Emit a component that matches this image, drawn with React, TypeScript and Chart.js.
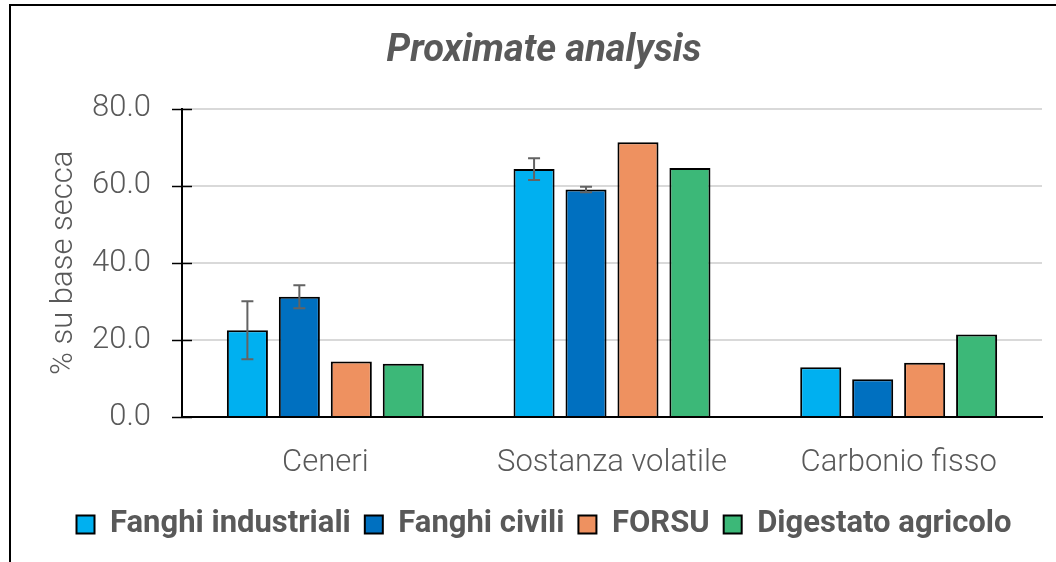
import React, { useEffect, useRef } from "react";
import { Chart, registerables } from "chart.js";

Chart.register(...registerables);

const categories = ["Ceneri", "Sostanza volatile", "Carbonio fisso"];
const seriesNames = ["Fanghi industriali", "Fanghi civili", "FORSU", "Digestato agricolo"];
const fanghiIndustriali = [22.5, 64.3, 12.9];
const fanghiCivili = [31.2, 59.0, 9.8];
const forsu = [14.4, 71.3, 14.1];
const digestato = [13.8, 64.6, 21.4];
const errIndustriali = [7.5, 2.8, 0];
const errCivili = [3.0, 0.7, 0];
const colors = ["#00B0F0", "#0070C0", "#EE9160", "#3CB878"];
const yTicks = [0, 20, 40, 60, 80];

const TEXT = "#595959";
const FONT = "Roboto, 'Noto Sans', sans-serif";

const errorBarPlugin = {
  id: "errorBars",
  afterDatasetsDraw(chart: any) {
    const ctx = chart.ctx;
    const y = chart.scales.y;
    const errs = [errIndustriali, errCivili];
    ctx.save();
    ctx.strokeStyle = "#636363";
    ctx.lineWidth = 2;
    errs.forEach((err, di) => {
      const meta = chart.getDatasetMeta(di);
      meta.data.forEach((bar: any, i: number) => {
        const e = err[i];
        if (!e) return;
        const v = (chart.data.datasets[di].data as number[])[i];
        const top = y.getPixelForValue(v + e);
        const bot = y.getPixelForValue(v - e);
        const x = bar.x;
        ctx.beginPath();
        ctx.moveTo(x, top);
        ctx.lineTo(x, bot);
        ctx.moveTo(x - 6, top);
        ctx.lineTo(x + 6, top);
        ctx.moveTo(x - 6, bot);
        ctx.lineTo(x + 6, bot);
        ctx.stroke();
      });
    });
    ctx.restore();
  },
};

const tickPlugin = {
  id: "yTickMarks",
  afterDraw(chart: any) {
    const ctx = chart.ctx;
    const y = chart.scales.y;
    const x0 = chart.chartArea.left;
    ctx.save();
    ctx.strokeStyle = "#000";
    ctx.lineWidth = 1.5;
    yTicks.forEach((t) => {
      const py = Math.round(y.getPixelForValue(t)) + 0.5;
      ctx.beginPath();
      ctx.moveTo(x0 - 10, py);
      ctx.lineTo(x0 + 10, py);
      ctx.stroke();
    });
    ctx.restore();
  },
};

export default function App() {
  const ref = useRef<HTMLCanvasElement | null>(null);
  useEffect(() => {
    if (!ref.current) return;
    const data = [fanghiIndustriali, fanghiCivili, forsu, digestato];
    const chart = new Chart(ref.current, {
      type: "bar",
      data: {
        labels: categories,
        datasets: seriesNames.map((name, i) => ({
          label: name,
          data: data[i],
          backgroundColor: colors[i],
          borderColor: "#000000",
          borderWidth: 2,
          barPercentage: 0.79,
          categoryPercentage: 0.725,
        })),
      },
      options: {
        animation: false,
        responsive: false,
        devicePixelRatio: 1,
        layout: { padding: { left: 46, right: 14, top: 0, bottom: 12 } },
        plugins: {
          title: {
            display: true,
            text: "Proximate analysis",
            color: TEXT,
            font: { family: FONT, size: 38, weight: "bold", style: "italic" },
            padding: { top: 29, bottom: 34 },
          },
          legend: {
            position: "bottom",
            labels: {
              color: TEXT,
              font: { family: FONT, size: 31, weight: "bold" },
              boxWidth: 18,
              boxHeight: 18,
              padding: 14,
              generateLabels: () =>
                seriesNames.map((n, i) => ({
                  text: n,
                  fillStyle: colors[i],
                  strokeStyle: "#000",
                  lineWidth: 2,
                  datasetIndex: i,
                  fontColor: TEXT,
                })),
            },
          },
          tooltip: { enabled: false },
        },
        scales: {
          x: {
            grid: { display: false, drawTicks: false },
            border: { display: true, color: "#000", width: 2 },
            ticks: { color: TEXT, font: { family: FONT, size: 31, weight: "300" }, padding: 28 },
            afterFit: (s: any) => {
              s.height = 78;
            },
          },
          y: {
            min: 0,
            max: 80,
            afterBuildTicks: (s: any) => {
              s.ticks = yTicks.map((v) => ({ value: v }));
            },
            ticks: {
              color: TEXT,
              font: { family: FONT, size: 31, weight: "300" },
              padding: 31,
              callback: (v: any) => Number(v).toFixed(1),
            },
            grid: { color: "#D9D9D9", lineWidth: 2, drawTicks: false },
            border: { display: true, color: "#000", width: 2 },
            title: {
              display: true,
              text: "% su base secca",
              color: TEXT,
              font: { family: FONT, size: 31, weight: "300" },
              padding: { top: 0, bottom: 0 },
            },
            afterFit: (s: any) => {
              s.width = 136;
            },
          },
        },
      },
      plugins: [errorBarPlugin, tickPlugin],
    });
    return () => chart.destroy();
  }, []);

  return (
    <div style={{ position: "fixed", left: 0, top: 0, width: 1056, height: 562, background: "#fff", overflow: "hidden" }}>
      <div
        style={{
          position: "absolute",
          left: 9,
          top: 4,
          width: 1200,
          height: 700,
          borderLeft: "2px solid #000",
          borderTop: "2px solid #000",
        }}
      />
      <canvas ref={ref} width={1056} height={562} style={{ position: "absolute", left: 0, top: 0 }} />
    </div>
  );
}
